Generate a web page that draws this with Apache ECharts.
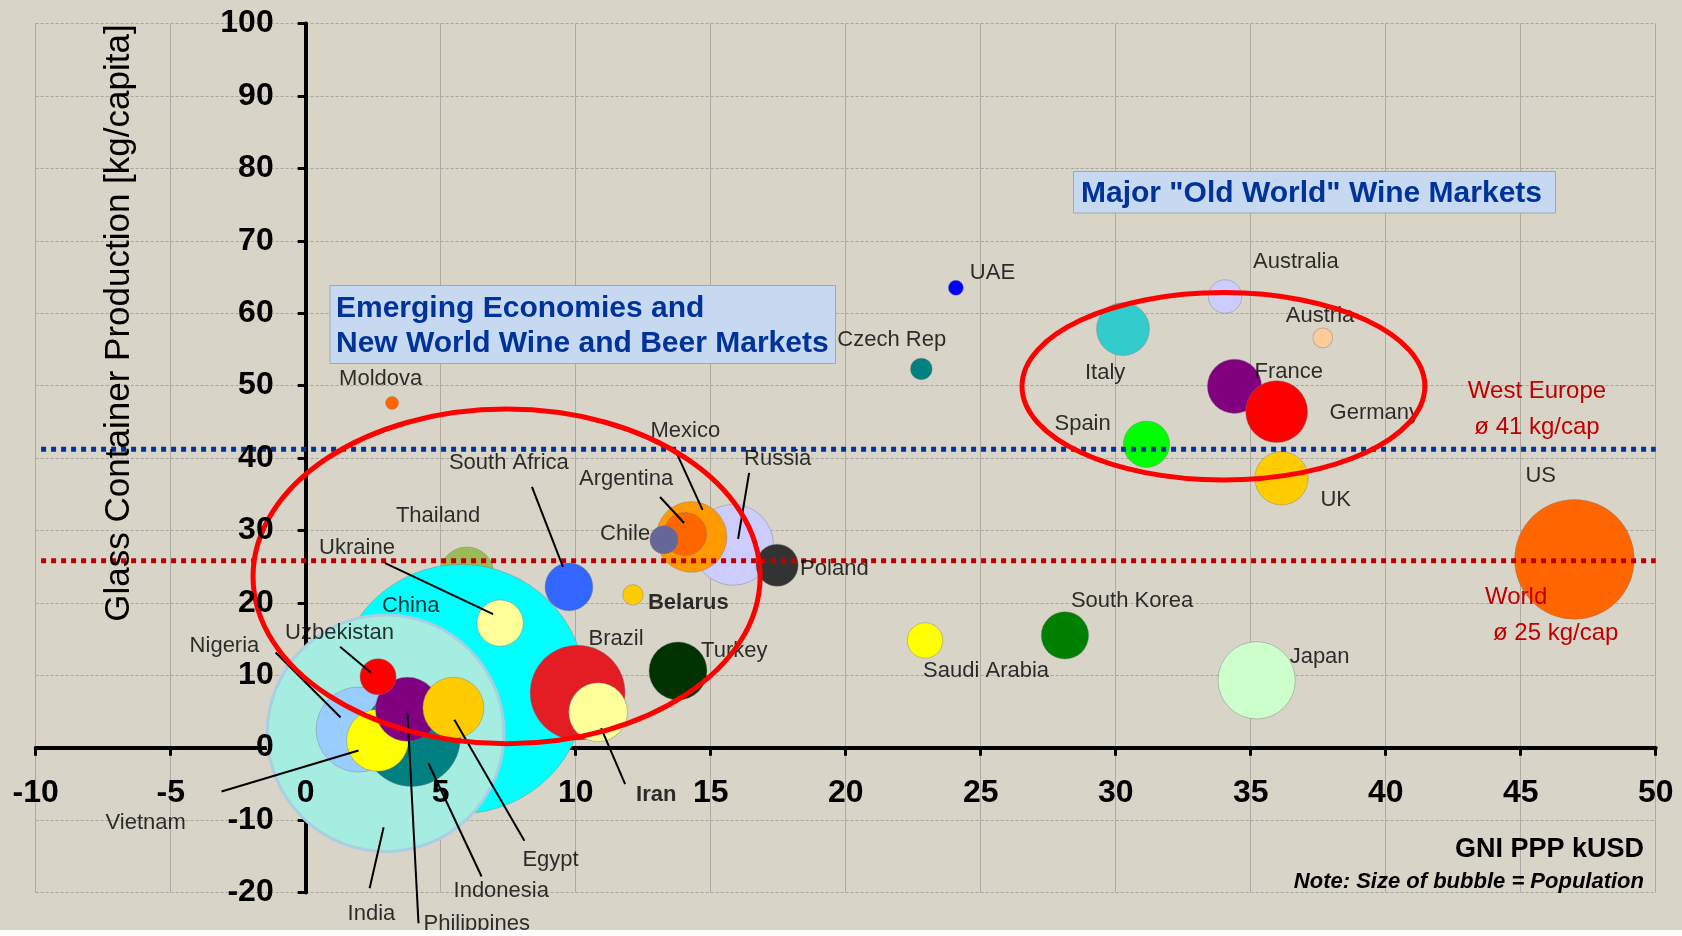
<!DOCTYPE html>
<html>
<head>
<meta charset="utf-8">
<script src="https://cdn.jsdelivr.net/npm/echarts/dist/echarts.min.js"></script>
<style>
  html, body { margin: 0; padding: 0; background: #d8d4c8; }
  #chart { width: 1682px; height: 936px; }
</style>
</head>
<body>
<div id="chart"></div>
<script>
// data (GNI PPP kUSD, kg glass per capita, population in millions)
const countries = ['Thailand', 'China', 'India', 'Nigeria', 'Indonesia', 'Vietnam', 'Philippines', 'Uzbekistan',
  'Egypt', 'Ukraine', 'Brazil', 'Iran', 'South Africa', 'Belarus', 'Russia', 'Mexico', 'Argentina', 'Chile',
  'Poland', 'Turkey', 'Saudi Arabia', 'South Korea', 'Japan', 'US', 'Moldova', 'UAE', 'Czech Rep',
  'Australia', 'Italy', 'Austria', 'France', 'Germany', 'Spain', 'UK']
const gniPpp = [5.97, 5.75, 2.96, 1.96, 3.92, 2.66, 3.77, 2.68, 5.47, 7.2, 10.07, 10.83, 9.75, 12.12, 15.83,
  14.29, 14.05, 13.27, 17.46, 13.79, 22.94, 28.12, 35.22, 46.99, 3.2, 24.08, 22.8, 34.05, 30.27, 37.67, 34.4,
  35.96, 31.14, 36.14]
const glassKg = [24.0, 8.1, 2.0, 2.5, 1.4, 1.0, 5.3, 9.8, 5.5, 17.2, 7.6, 4.9, 22.2, 21.1, 28.0, 29.1, 29.5,
  28.7, 25.2, 10.6, 14.8, 15.5, 9.3, 26.0, 47.6, 63.5, 52.3, 62.3, 57.8, 56.6, 49.9, 46.4, 41.9, 37.2]
const populationM = [62, 1330, 1200, 155, 205, 82, 88, 28, 80, 46, 193, 74, 49, 9, 140, 107, 40, 17, 38, 72,
  27, 48, 128, 307, 3.6, 4.8, 10, 24, 60, 8.4, 63, 82, 46, 61]
const xTicks = [-10, 50, 5]
const yTicks = [-20, 100, 10]
const westEuropeAvg = 41.2
const worldAvg = 25.8
const avgLineSpan = [-9.8, 50]

// styles / layout
const FONT = "'Liberation Sans', Arial, sans-serif"
const GRID = { left: 35.7, right: 26.3, top: 23.5, bottom: 43.5 }
const gridW = 1682 - GRID.left - GRID.right
const gridH = 936 - GRID.top - GRID.bottom
// axes cross at zero, move them in from the grid edges
const xAxisShift = -gridH * (0 - yTicks[0]) / (yTicks[1] - yTicks[0])
const yAxisShift = -gridW * (0 - xTicks[0]) / (xTicks[1] - xTicks[0])

const bubbleColors = {
  'Thailand': '#9bbb59', 'China': '#00ffff', 'India': '#a6ede1', 'Nigeria': '#99ccff', 'Indonesia': '#008080',
  'Vietnam': '#ffff00', 'Philippines': '#800080', 'Uzbekistan': '#ff0000', 'Egypt': '#ffcc00',
  'Ukraine': '#ffff99', 'Brazil': '#e41c24', 'Iran': '#ffff99', 'South Africa': '#3366ff', 'Belarus': '#ffcc00',
  'Russia': '#ccccff', 'Mexico': '#ff9900', 'Argentina': '#ff6600', 'Chile': '#666699', 'Poland': '#333333',
  'Turkey': '#003300', 'Saudi Arabia': '#ffff00', 'South Korea': '#008000', 'Japan': '#ccffcc', 'US': '#ff6600',
  'Moldova': '#ff6600', 'UAE': '#0000ff', 'Czech Rep': '#008080', 'Australia': '#ccccff', 'Italy': '#33cccc',
  'Austria': '#ffcc99', 'France': '#800080', 'Germany': '#ff0000', 'Spain': '#00ff00', 'UK': '#ffcc00'
}
// label offset from bubble centre (px)
const labelOffsets = {
  'Thailand': [-71, -58], 'China': [-79, -83], 'India': [-38, 181], 'Nigeria': [-169, -84],
  'Indonesia': [42, 153], 'Vietnam': [-272, 83], 'Philippines': [16, 215], 'Uzbekistan': [-93, -44],
  'Egypt': [69, 152], 'Ukraine': [-181, -75], 'Brazil': [11, -54], 'Iran': [38, 83],
  'South Africa': [-120, -124], 'Belarus': [15, 8], 'Russia': [11, -86], 'Mexico': [-41, -106],
  'Argentina': [-106, -55], 'Chile': [-64, -6], 'Poland': [23, 4], 'Turkey': [23, -20],
  'Saudi Arabia': [-2, 30], 'South Korea': [6, -34], 'Japan': [33, -23], 'US': [-49, -83],
  'Moldova': [-53, -24], 'UAE': [14, -15], 'Czech Rep': [-84, -29], 'Australia': [28, -35],
  'Italy': [-38, 44], 'Austria': [-37, -22], 'France': [20, -14], 'Germany': [53, 1],
  'Spain': [-92, -20], 'UK': [39, 22]
}
const boldLabels = ['Belarus', 'Iran']
// leader lines, both ends as px offsets from bubble centre
const leaderLines = {
  'Ukraine': [[-115, -60], [-7, -9]],
  'South Africa': [[-37, -100], [-6, -20]],
  'Argentina': [[-25, -37], [-1, -11]],
  'Mexico': [[-15, -84], [11, -27]],
  'Russia': [[16, -72], [5, -6]],
  'Uzbekistan': [[-38, -30], [-7, -4]],
  'Nigeria': [[-83, -77], [-18, -12]],
  'Vietnam': [[-156, 51], [-19, 10]],
  'India': [[-16, 155], [-2, 94]],
  'Philippines': [[11, 214], [0, 4]],
  'Indonesia': [[70, 139], [17, 26]],
  'Egypt': [[71, 133], [1, 12]],
  'Iran': [[27, 72], [3, 16]]
}
// red ellipses in axis units: centre x, centre y, radius x, radius y
const groupEllipses = [[7.44, 23.65, 9.39, 23.1], [33.99, 49.9, 7.46, 12.94]]

const bubbleSize = v => 6.83 * Math.sqrt(v[2])

const bubbleData = countries.map((c, i) => {
  const item = { name: c, value: [gniPpp[i], glassKg[i], populationM[i]], itemStyle: { color: bubbleColors[c] } }
  if (c === 'India') {
    item.itemStyle.borderColor = '#a9cfe3'
    item.itemStyle.borderWidth = 3
  }
  return item
})
const labelData = countries.map((c, i) => ({
  name: c,
  value: [gniPpp[i], glassKg[i]],
  label: {
    offset: labelOffsets[c],
    fontWeight: boldLabels.includes(c) ? 'bold' : 'normal'
  }
}))

const tickFont = { color: '#000', fontSize: 32, fontWeight: 'bold', fontFamily: FONT }
const axisBase = (ticks, shift, position) => ({
  type: 'value',
  position: position,
  min: ticks[0],
  max: ticks[1],
  interval: ticks[2],
  offset: shift
})

const chart = echarts.init(document.getElementById('chart'))

chart.setOption({
  animation: false,
  backgroundColor: '#d8d4c8',
  grid: { left: GRID.left, right: GRID.right, top: GRID.top, bottom: GRID.bottom, containLabel: false, outerBoundsMode: 'none' },
  xAxis: [
    // line + ticks, sits under the bubbles
    Object.assign(axisBase(xTicks, xAxisShift, 'bottom'), {
      axisLine: { onZero: false, lineStyle: { color: '#000', width: 4 } },
      axisTick: { length: 8, lineStyle: { color: '#000', width: 3 } },
      axisLabel: { show: false },
      splitLine: { show: true, lineStyle: { color: '#aeaaa2', width: 1 } }
    }),
    // tick labels only, drawn on top
    Object.assign(axisBase(xTicks, xAxisShift, 'bottom'), {
      z: 50,
      axisLine: { show: false, onZero: false },
      axisTick: { show: false },
      splitLine: { show: false },
      axisLabel: Object.assign({ margin: 30 }, tickFont)
    })
  ],
  yAxis: [
    Object.assign(axisBase(yTicks, yAxisShift, 'left'), {
      axisLine: { onZero: false, lineStyle: { color: '#000', width: 4 } },
      axisTick: { length: 8, lineStyle: { color: '#000', width: 3 } },
      axisLabel: { show: false },
      splitLine: { show: true, lineStyle: { color: '#a8a59e', width: 1, type: [3, 2] } }
    }),
    Object.assign(axisBase(yTicks, yAxisShift, 'left'), {
      z: 50,
      axisLine: { show: false, onZero: false },
      axisTick: { show: false },
      splitLine: { show: false },
      axisLabel: Object.assign({ margin: 32 }, tickFont)
    })
  ],
  series: [
    {
      type: 'scatter',
      data: bubbleData,
      symbolSize: bubbleSize,
      itemStyle: { opacity: 1, borderColor: 'rgba(120,120,120,0.4)', borderWidth: 1 },
      emphasis: { disabled: true },
      silent: true,
      z: 2
    },
    {
      type: 'line',
      data: [[avgLineSpan[0], westEuropeAvg], [avgLineSpan[1], westEuropeAvg]],
      symbol: 'none',
      lineStyle: { color: '#003399', width: 5, type: [5, 5] },
      silent: true,
      z: 6
    },
    {
      type: 'line',
      data: [[avgLineSpan[0], worldAvg], [avgLineSpan[1], worldAvg]],
      symbol: 'none',
      lineStyle: { color: '#c00000', width: 5, type: [5, 5] },
      silent: true,
      z: 6
    },
    {
      type: 'scatter',
      data: labelData,
      symbolSize: 1,
      itemStyle: { color: 'rgba(0,0,0,0)' },
      label: {
        show: true,
        position: 'inside',
        align: 'left',
        verticalAlign: 'middle',
        formatter: '{b}',
        color: '#000',
        fontSize: 22,
        fontFamily: FONT
      },
      emphasis: { disabled: true },
      silent: true,
      z: 8
    }
  ]
})

const toPx = v => chart.convertToPixel({ xAxisIndex: 0, yAxisIndex: 0 }, v)
const graphics = []

// leader lines
Object.keys(leaderLines).forEach(c => {
  const i = countries.indexOf(c)
  const p = toPx([gniPpp[i], glassKg[i]])
  const [a, b] = leaderLines[c]
  graphics.push({
    type: 'line', z: 20, silent: true,
    shape: { x1: p[0] + a[0], y1: p[1] + a[1], x2: p[0] + b[0], y2: p[1] + b[1] },
    style: { stroke: '#000', lineWidth: 2 }
  })
})

// red ellipses
groupEllipses.forEach(e => {
  const c = toPx([e[0], e[1]])
  const r = toPx([e[0] + e[2], e[1] + e[3]])
  graphics.push({
    type: 'ellipse', z: 30, silent: true,
    shape: { cx: c[0], cy: c[1], rx: Math.abs(r[0] - c[0]), ry: Math.abs(r[1] - c[1]) },
    style: { fill: 'none', stroke: '#ff0000', lineWidth: 5 }
  })
})

// annotation boxes
graphics.push(
  { type: 'rect', z: 25, shape: { x: 330, y: 285.5, width: 505.5, height: 78 }, style: { fill: '#c6d9f1', stroke: '#a6a6a6', lineWidth: 1 } },
  { type: 'text', z: 26, x: 336, y: 309, style: { text: 'Emerging Economies and', fill: '#003399', font: 'bold 30px ' + FONT, verticalAlign: 'middle' } },
  { type: 'text', z: 26, x: 336, y: 344, style: { text: 'New World Wine and Beer Markets', fill: '#003399', font: 'bold 30px ' + FONT, verticalAlign: 'middle' } },
  { type: 'rect', z: 25, shape: { x: 1073.5, y: 171.5, width: 482, height: 41.5 }, style: { fill: '#c6d9f1', stroke: '#a6a6a6', lineWidth: 1 } },
  { type: 'text', z: 26, x: 1081, y: 194, style: { text: 'Major "Old World" Wine Markets', fill: '#003399', font: 'bold 30px ' + FONT, verticalAlign: 'middle' } }
)

// average labels
graphics.push(
  { type: 'text', z: 26, x: 1537, y: 391, style: { text: 'West Europe', fill: '#c00000', font: '24px ' + FONT, align: 'center', verticalAlign: 'middle' } },
  { type: 'text', z: 26, x: 1537, y: 427, style: { text: 'ø 41 kg/cap', fill: '#c00000', font: '24px ' + FONT, align: 'center', verticalAlign: 'middle' } },
  { type: 'text', z: 26, x: 1485, y: 597, style: { text: 'World', fill: '#c00000', font: '24px ' + FONT, verticalAlign: 'middle' } },
  { type: 'text', z: 26, x: 1493, y: 633, style: { text: 'ø 25 kg/cap', fill: '#c00000', font: '24px ' + FONT, verticalAlign: 'middle' } }
)

// axis titles
graphics.push(
  { type: 'text', z: 26, x: 119, y: 323, rotation: Math.PI / 2, style: { text: 'Glass Container Production [kg/capita]', fill: '#000', font: '35px ' + FONT, align: 'center', verticalAlign: 'middle' } },
  { type: 'text', z: 26, x: 1644, y: 850, style: { text: 'GNI PPP kUSD', fill: '#000', font: 'bold 27px ' + FONT, align: 'right', verticalAlign: 'middle' } },
  { type: 'text', z: 26, x: 1644, y: 882, style: { text: 'Note: Size of bubble = Population', fill: '#000', font: 'italic bold 22px ' + FONT, align: 'right', verticalAlign: 'middle' } },
  { type: 'rect', z: 40, shape: { x: 0, y: 930, width: 1682, height: 6 }, style: { fill: '#ffffff' } }
)

chart.setOption({ graphic: graphics })
</script>
</body>
</html>
